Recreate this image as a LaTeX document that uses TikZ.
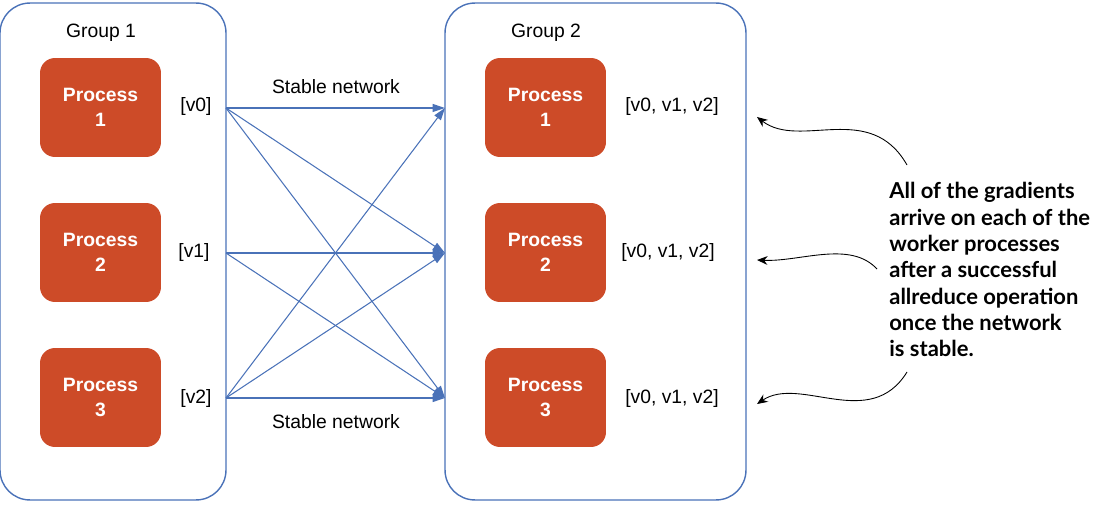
\documentclass[tikz,border=0pt]{standalone}
\usepackage{fontspec}
\setmainfont{Liberation Sans}
\newfontfamily\notefont{Lato}
\usetikzlibrary{arrows.meta}
\definecolor{procred}{RGB}{205,75,40}
\definecolor{netblue}{RGB}{74,114,184}

\begin{document}
\begin{tikzpicture}[x=0.02cm,y=-0.02cm,
  group/.style={draw=netblue,line width=0.8pt,rounded corners=17pt,minimum height=9.94cm},
  proc/.style={fill=procred,rounded corners=8.5pt,minimum width=2.42cm,minimum height=1.98cm,
    text=white,font=\bfseries\fontsize{11}{14}\selectfont,align=center},
  lbl/.style={font=\fontsize{11}{13}\selectfont,inner sep=0pt},
  flow/.style={draw=netblue,line width=0.6pt,-{Triangle[length=7pt,width=4.5pt]}},
  note/.style={-{Stealth[length=6pt,width=5pt]},line width=0.5pt}]
\useasboundingbox (0,0) rectangle (1094,506);
% groups
\node[group,minimum width=4.52cm] (g1) at (113,251.5) {};
\node[group,minimum width=6.02cm] (g2) at (595.5,251.5) {};
\node[lbl] (g1name) at (101,33) {Group 1};
\node[lbl] (g2name) at (546,33) {Group 2};
% processes
\foreach \i/\y in {1/107.5,2/252.5,3/397.5} {
  \node[proc] (p\i) at (100.5,\y) {Process\\\i};
  \node[proc] (q\i) at (545.5,\y) {Process\\\i};
}
\node[lbl] (v0) at (196,107) {[v0]};
\node[lbl] (v1) at (194,253) {[v1]};
\node[lbl] (v2) at (196,399) {[v2]};
\node[lbl] (r0) at (672,107) {[v0, v1, v2]};
\node[lbl] (r1) at (668,253) {[v0, v1, v2]};
\node[lbl] (r2) at (672,399) {[v0, v1, v2]};
\node[lbl] (net1) at (336,87) {Stable network};
\node[lbl] (net2) at (336,422) {Stable network};
% network
\foreach \i/\y in {0/108,1/253,2/398} {
  \coordinate (out\i) at (226,\y);
  \coordinate (in\i) at (445,\y);
}
\foreach \a/\b in {0/0,0/1,0/2,1/1,1/2,2/0,2/1,2/2}
  \draw[flow] (out\a) -- (in\b);
% annotation
\node[anchor=north west,inner sep=0pt,align=left,font=\notefont\bfseries\fontsize{12.5}{15}\selectfont]
  (txt) at (889,182) {All of the gradients\\arrive on each of the\\worker processes\\after a successful\\allreduce operation\\once the network\\is stable.};
\coordinate (s1) at (907,165);
\coordinate (s2) at (877,269);
\coordinate (s3) at (907,372);
\coordinate (t1) at (757,117);
\coordinate (t2) at (757,260);
\coordinate (t3) at (757,404);
\draw[note] (s1) .. controls (870,100) and (800,150) .. (t1);
\draw[note] (s2) .. controls (850,240) and (800,262) .. (t2);
\draw[note] (s3) .. controls (870,432) and (800,375) .. (t3);
\end{tikzpicture}
\end{document}
